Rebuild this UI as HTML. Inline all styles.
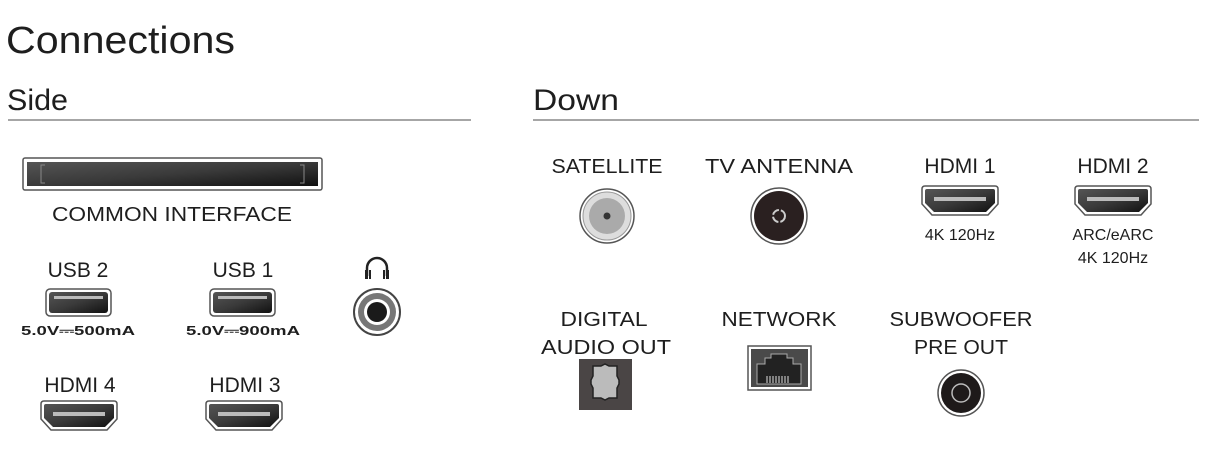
<!DOCTYPE html>
<html><head><meta charset="utf-8"><style>
html,body{margin:0;padding:0;background:#fff;width:1210px;height:455px;overflow:hidden}
svg text{font-family:"Liberation Sans",sans-serif;fill:#1e1e1e}
</style></head><body>
<svg width="1210" height="455" viewBox="0 0 1210 455" xmlns="http://www.w3.org/2000/svg">
<defs>
<linearGradient id="g" x1="0" y1="0" x2="1" y2="1"><stop offset="0" stop-color="#555"/><stop offset="0.5" stop-color="#3a3a3a"/><stop offset="1" stop-color="#111"/></linearGradient>
<g id="hdmi">
<path d="M0,3 Q0,0 3,0 H73 Q76,0 76,3 V18 L66,29 H10 L0,18 Z" fill="#fff" stroke="#555" stroke-width="1.5"/>
<path d="M3,5 Q3,3 5,3 H71 Q73,3 73,5 V17 L64,26 H12 L3,17 Z" fill="url(#g)"/>
<rect x="12" y="11" width="52" height="4" fill="#bbb"/>
</g>
<g id="usb">
<rect x="0" y="0" width="65" height="27" rx="4" fill="#fff" stroke="#555" stroke-width="1.5"/>
<rect x="3" y="3" width="59" height="21" rx="3" fill="url(#g)"/>
<rect x="8" y="7" width="49" height="3" fill="#bbb"/>
</g>
</defs>

<text x="6" y="53" font-size="38" textLength="229" lengthAdjust="spacingAndGlyphs">Connections</text>
<text x="7" y="110" font-size="30" fill="#333" textLength="61" lengthAdjust="spacingAndGlyphs">Side</text>
<line x1="8" y1="120" x2="471" y2="120" stroke="#888" stroke-width="1.5"/>
<text x="533" y="110" font-size="30" fill="#333" textLength="86" lengthAdjust="spacingAndGlyphs">Down</text>
<line x1="533" y1="120" x2="1199" y2="120" stroke="#888" stroke-width="1.5"/>

<rect x="23" y="158" width="299" height="32" rx="2" fill="#fff" stroke="#555" stroke-width="1.5"/>
<rect x="27" y="162" width="291" height="24" fill="url(#g)"/>
<path d="M45,165 h-4 v18 h4 M300,165 h4 v18 h-4" stroke="#888" fill="none"/>
<text x="172" y="221" font-size="20" text-anchor="middle" textLength="240" lengthAdjust="spacingAndGlyphs">COMMON INTERFACE</text>

<text x="78" y="277" font-size="21" text-anchor="middle">USB 2</text>
<use href="#usb" x="46" y="289"/>
<text x="78" y="335" font-size="13" font-weight="bold" text-anchor="middle" textLength="114" lengthAdjust="spacingAndGlyphs">5.0V⎓500mA</text>
<text x="243" y="277" font-size="21" text-anchor="middle">USB 1</text>
<use href="#usb" x="210" y="289"/>
<text x="243" y="335" font-size="13" font-weight="bold" text-anchor="middle" textLength="114" lengthAdjust="spacingAndGlyphs">5.0V⎓900mA</text>

<path d="M367,276 v-8 a10,10 0 0 1 20,0 v8" fill="none" stroke="#222" stroke-width="2.5"/>
<rect x="365" y="270" width="3" height="9" fill="#222"/><rect x="369" y="270" width="2" height="9" fill="#222"/>
<rect x="383" y="270" width="2" height="9" fill="#222"/><rect x="386" y="270" width="3" height="9" fill="#222"/>
<circle cx="377" cy="312" r="23" fill="#fff" stroke="#444" stroke-width="2"/>
<circle cx="377" cy="312" r="19" fill="#777"/>
<circle cx="377" cy="312" r="13" fill="#fff"/>
<circle cx="377" cy="312" r="10" fill="#1a1a1a"/>

<text x="80" y="392" font-size="21" text-anchor="middle">HDMI 4</text>
<use href="#hdmi" x="41" y="401"/>
<text x="245" y="392" font-size="21" text-anchor="middle">HDMI 3</text>
<use href="#hdmi" x="206" y="401"/>

<text x="607" y="173" font-size="20" text-anchor="middle" textLength="111" lengthAdjust="spacingAndGlyphs">SATELLITE</text>
<circle cx="607" cy="216" r="27" fill="#fff" stroke="#555" stroke-width="1.5"/>
<circle cx="607" cy="216" r="24" fill="#ddd" stroke="#999"/>
<circle cx="607" cy="216" r="18" fill="#aaa"/>
<circle cx="607" cy="216" r="3.5" fill="#333"/>

<text x="779" y="173" font-size="20" text-anchor="middle" textLength="148" lengthAdjust="spacingAndGlyphs">TV ANTENNA</text>
<circle cx="779" cy="216" r="28" fill="#fff" stroke="#555" stroke-width="1.5"/>
<circle cx="779" cy="216" r="25" fill="#2a2020"/>
<circle cx="779" cy="216" r="6" fill="none" stroke="#ccc" stroke-width="2" stroke-dasharray="8 2"/>

<text x="960" y="173" font-size="21" text-anchor="middle">HDMI 1</text>
<use href="#hdmi" x="922" y="186"/>
<text x="960" y="240" font-size="16" text-anchor="middle">4K 120Hz</text>

<text x="1113" y="173" font-size="21" text-anchor="middle">HDMI 2</text>
<use href="#hdmi" x="1075" y="186"/>
<text x="1113" y="240" font-size="16" text-anchor="middle">ARC/eARC</text>
<text x="1113" y="263" font-size="16" text-anchor="middle">4K 120Hz</text>

<text x="604" y="326" font-size="20" text-anchor="middle" textLength="87" lengthAdjust="spacingAndGlyphs">DIGITAL</text>
<text x="606" y="354" font-size="20" text-anchor="middle" textLength="130" lengthAdjust="spacingAndGlyphs">AUDIO OUT</text>
<rect x="579" y="359" width="53" height="51" fill="#4a4545"/>
<path d="M593,366 h8 l4,-2 l4,2 h8 v10 l2,4 v4 l-2,4 v10 h-8 l-4,2 l-4,-2 h-8 v-10 l-2,-4 v-4 l2,-4 z" fill="#bbb" stroke="#222" stroke-width="1.5"/>

<text x="779" y="326" font-size="20" text-anchor="middle" textLength="115" lengthAdjust="spacingAndGlyphs">NETWORK</text>
<rect x="748" y="346" width="63" height="44" fill="#fff" stroke="#555" stroke-width="1.5"/>
<rect x="751" y="349" width="57" height="38" fill="#4a4a4a"/>
<path d="M757,384 v-20 h8 v-6 h6 v-4 h16 v4 h6 v6 h8 v20 z" fill="#222" stroke="#aaa" stroke-width="1"/>
<g stroke="#ddd" stroke-width="1"><path d="M767,376v7M770,376v7M773,376v7M776,376v7M779,376v7M782,376v7M785,376v7M788,376v7"/></g>

<text x="961" y="326" font-size="20" text-anchor="middle" textLength="143" lengthAdjust="spacingAndGlyphs">SUBWOOFER</text>
<text x="961" y="354" font-size="20" text-anchor="middle" textLength="94" lengthAdjust="spacingAndGlyphs">PRE OUT</text>
<circle cx="961" cy="393" r="23" fill="#fff" stroke="#555" stroke-width="1.5"/>
<circle cx="961" cy="393" r="20" fill="#1e1a1a"/>
<circle cx="961" cy="393" r="9" fill="none" stroke="#bbb" stroke-width="1.5"/>
</svg>
</body></html>
